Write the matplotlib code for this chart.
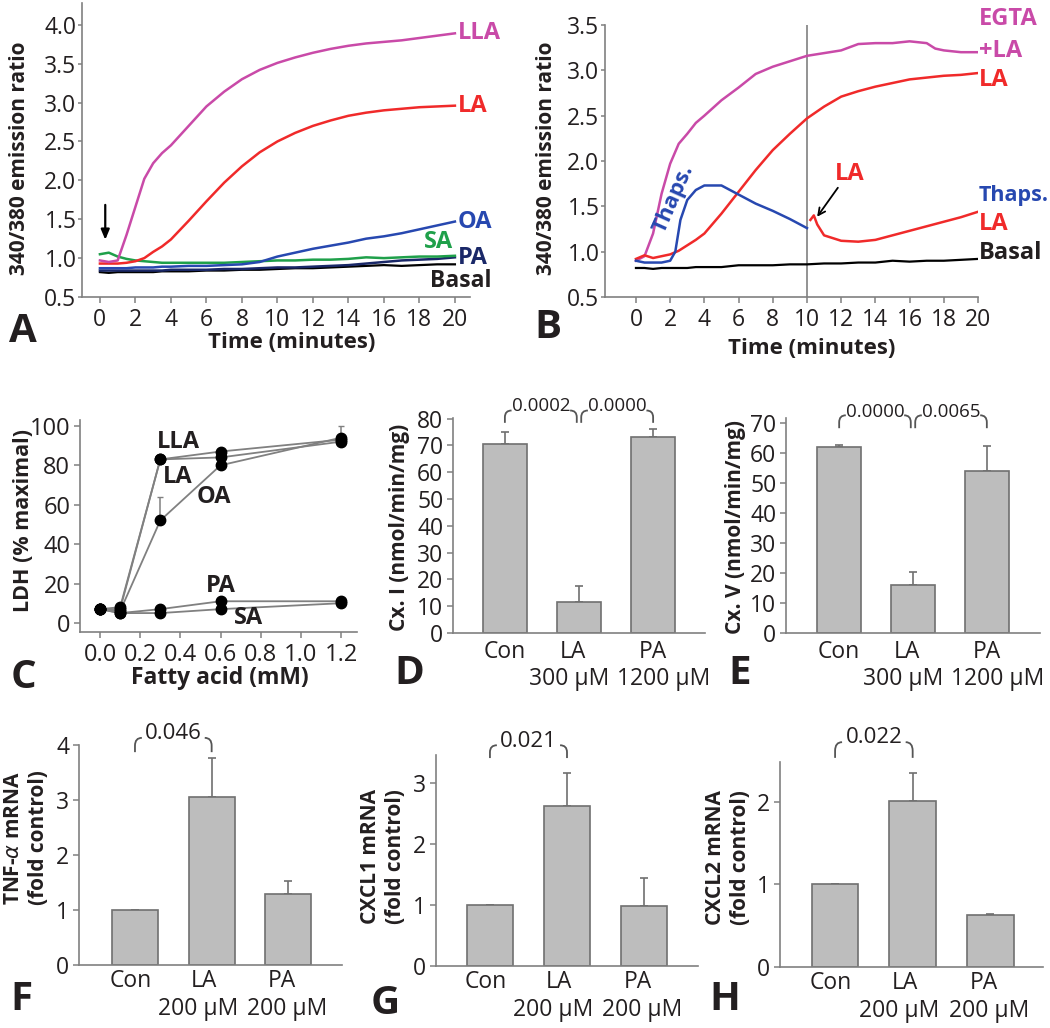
import numpy as np
import matplotlib
matplotlib.use("Agg")
import matplotlib.pyplot as plt
from matplotlib.path import Path
from matplotlib.patches import PathPatch

plt.rcParams['font.family'] = ['Open Sans', 'DejaVu Sans']

# ---- data -------------------------------------------------------------
# panel A: calcium traces
tA = [0, 0.5, 1, 1.5, 2, 2.5, 3, 3.5, 4, 5, 6, 7, 8, 9, 10, 11, 12, 13, 14, 15, 16, 17, 18, 19, 20]
lla_A = [0.97, 0.95, 0.97, 1.30, 1.66, 2.02, 2.22, 2.35, 2.45, 2.70, 2.95, 3.14, 3.30, 3.42, 3.51,
         3.58, 3.64, 3.69, 3.73, 3.76, 3.78, 3.80, 3.83, 3.86, 3.89]
la_A = [0.93, 0.93, 0.93, 0.94, 0.96, 1.00, 1.08, 1.15, 1.24, 1.48, 1.73, 1.97, 2.18, 2.36, 2.50,
        2.61, 2.70, 2.77, 2.83, 2.87, 2.90, 2.92, 2.94, 2.95, 2.96]
oa_A = [0.87, 0.87, 0.87, 0.87, 0.88, 0.88, 0.88, 0.89, 0.89, 0.90, 0.90, 0.91, 0.92, 0.95, 1.02,
        1.07, 1.12, 1.16, 1.20, 1.25, 1.28, 1.32, 1.37, 1.42, 1.47]
sa_A = [1.05, 1.07, 1.02, 0.99, 0.97, 0.96, 0.95, 0.94, 0.94, 0.94, 0.94, 0.94, 0.95, 0.96, 0.97,
        0.97, 0.98, 0.98, 0.99, 1.01, 1.00, 1.01, 1.02, 1.02, 1.03]
pa_A = [0.84, 0.84, 0.84, 0.84, 0.84, 0.84, 0.84, 0.84, 0.85, 0.85, 0.85, 0.86, 0.86, 0.87, 0.88,
        0.88, 0.89, 0.90, 0.91, 0.93, 0.95, 0.97, 0.98, 0.99, 1.01]
basal_A = [0.82, 0.81, 0.82, 0.82, 0.82, 0.82, 0.82, 0.83, 0.83, 0.83, 0.84, 0.84, 0.85, 0.85, 0.86,
           0.87, 0.87, 0.88, 0.89, 0.90, 0.91, 0.90, 0.91, 0.92, 0.92]

# panel B
tB = [0, 0.5, 1, 1.5, 2, 2.5, 3, 3.5, 4, 5, 6, 7, 8, 9, 10, 11, 12, 13, 14, 15, 16, 17, 17.5, 18, 19, 20]
egta_B = [0.90, 0.95, 1.20, 1.64, 1.97, 2.19, 2.30, 2.42, 2.50, 2.67, 2.81, 2.96, 3.04, 3.10, 3.16,
          3.19, 3.22, 3.29, 3.30, 3.30, 3.32, 3.30, 3.24, 3.22, 3.20, 3.20]
la_B = [0.92, 0.96, 0.93, 0.95, 0.97, 1.01, 1.07, 1.13, 1.20, 1.42, 1.66, 1.90, 2.12, 2.30, 2.47,
        2.60, 2.71, 2.77, 2.82, 2.86, 2.90, 2.92, 2.93, 2.94, 2.95, 2.97]
basal_B = [0.82, 0.82, 0.81, 0.82, 0.82, 0.82, 0.82, 0.83, 0.83, 0.83, 0.85, 0.85, 0.85, 0.86, 0.86,
           0.87, 0.87, 0.88, 0.88, 0.90, 0.89, 0.90, 0.90, 0.90, 0.91, 0.92]
t_thaps = [0, 0.5, 1, 1.5, 2, 2.3, 2.6, 3, 3.5, 4, 5, 6, 7, 8, 9, 10]
thaps_B = [0.90, 0.88, 0.88, 0.88, 0.90, 1.00, 1.35, 1.57, 1.68, 1.73, 1.73, 1.63, 1.53, 1.45, 1.36, 1.26]
t_la2 = [10.2, 10.4, 10.6, 11, 12, 13, 14, 15, 16, 17, 18, 19, 20]
la2_B = [1.35, 1.40, 1.30, 1.18, 1.12, 1.11, 1.13, 1.18, 1.23, 1.28, 1.33, 1.38, 1.44]

# panel C: LDH release
conc = [0, 0.1, 0.3, 0.6, 1.2]
ldh_lla = [7, 8, 83, 87, 93]
ldh_la = [7, 7, 83, 84, 92]
ldh_oa = [7, 6, 52, 80, 94]
ldh_pa = [7, 5, 7, 11, 11]
ldh_sa = [7, 5, 5, 7, 10]
ldh_oa_err = [0, 0, 12, 0, 6]

# panels D-H: bars
names = ['Con', 'LA', 'PA']
doses_DE = ['', '300 \u00b5M', '1200 \u00b5M']
doses_FH = ['', '200 \u00b5M', '200 \u00b5M']
cx1 = [70.5, 11.5, 73]
cx1_err = [4.5, 6, 3]
cx5 = [62, 16, 54]
cx5_err = [0.8, 4.5, 8.5]
tnf = [1.0, 3.05, 1.3]
tnf_err = [0, 0.72, 0.23]
cxcl1 = [1.0, 2.63, 0.99]
cxcl1_err = [0, 0.53, 0.45]
cxcl2 = [1.0, 2.01, 0.63]
cxcl2_err = [0, 0.34, 0.01]

# ---- style ------------------------------------------------------------
W, H = 1050, 1028
TXT = '#231f20'
AX = '#808080'
MAG = '#c94aa8'
RED = '#f02a2a'
BLUE = '#2748b0'
GREEN = '#1fa04a'
NAVY = '#1a2868'

fig = plt.figure(figsize=(W / 100, H / 100), dpi=100)


def rect(l, t, r, b):
    return [l / W, 1 - b / H, (r - l) / W, (b - t) / H]


def fx(x):
    return x / W


def fy(y):
    return 1 - y / H


def style(ax, fs=16, ylen=3, ypad=2):
    for s in ['top', 'right']:
        ax.spines[s].set_visible(False)
    for s in ['left', 'bottom']:
        ax.spines[s].set_color(AX)
        ax.spines[s].set_linewidth(1.2)
    ax.tick_params(axis='both', colors=AX, labelcolor=TXT, labelsize=fs, width=1.1)
    ax.tick_params(axis='y', length=ylen, pad=ypad)
    ax.tick_params(axis='x', length=4, pad=4)


def ylab(x, y, s, fs=15):
    fig.text(fx(x), fy(y), s, rotation=90, ha='center', va='center',
             fontsize=fs, fontweight='bold', color=TXT, linespacing=1.3)


def xlab(x, y, s, fs=16):
    fig.text(fx(x), fy(y), s, ha='center', va='center', fontsize=fs,
             fontweight='bold', color=TXT)


def letter(x, y, s):
    fig.text(fx(x), fy(y), s, ha='center', va='center', fontsize=29,
             fontweight='bold', color=TXT)


def bracket(ax, x0, x1, y0, y1, s, fs=13.5, w=0.09, ty=None):
    h = (y1 - y0) * 0.55
    for xa, d in [(x0, 1), (x1, -1)]:
        verts = [(xa, y0), (xa, y1 - h), (xa, y1), (xa + d * w, y1)]
        codes = [Path.MOVETO, Path.LINETO, Path.CURVE3, Path.CURVE3]
        ax.add_patch(PathPatch(Path(verts, codes), fill=False, edgecolor='#555555',
                               lw=1.3, clip_on=False))
    ax.text((x0 + x1) / 2, y1 if ty is None else ty, s, ha='center', va='center',
            fontsize=fs, color=TXT, clip_on=False)


# ---- A ----------------------------------------------------------------
axA = fig.add_axes(rect(82, 3, 470, 297))
style(axA, 16.5, ylen=3, ypad=1)
axA.plot(tA, basal_A, color='black', lw=1.6)
axA.plot(tA, pa_A, color=NAVY, lw=1.8)
axA.plot(tA, sa_A, color=GREEN, lw=1.8)
axA.plot(tA, oa_A, color=BLUE, lw=1.8)
axA.plot(tA, la_A, color=RED, lw=1.8)
axA.plot(tA, lla_A, color=MAG, lw=1.8)
axA.set_xlim(-1.01, 20.85)
axA.set_ylim(0.5, 4.28)
axA.set_xticks(range(0, 21, 2))
axA.set_yticks(np.arange(0.5, 4.01, 0.5))
axA.set_yticklabels(['%.1f' % v for v in np.arange(0.5, 4.01, 0.5)])
axA.annotate('', xy=(0.3, 1.2), xytext=(0.3, 1.72),
             arrowprops=dict(arrowstyle='-|>,head_width=0.25,head_length=0.6', color='black', lw=1.6))
for s, y, c in [('LLA', 3.89, MAG), ('LA', 2.96, RED), ('OA', 1.47, BLUE), ('PA', 1.0, NAVY)]:
    axA.text(20.15, y, s, color=c, fontsize=17, fontweight='bold', va='center', ha='left', clip_on=False)
axA.text(19.1, 1.21, 'SA', color=GREEN, fontsize=17, fontweight='bold', va='center', ha='center')
axA.text(18.6, 0.71, 'Basal', color=TXT, fontsize=16.5, fontweight='bold', va='center', ha='left', clip_on=False)
ylab(20, 158, '340/380 emission ratio')
xlab(292, 343, 'Time (minutes)')
letter(23, 332, 'A')

# ---- B ----------------------------------------------------------------
axB = fig.add_axes(rect(605, 25, 978, 297))
style(axB, 16.5, ylen=3, ypad=1)
axB.axvline(10, color=AX, lw=1.2)
axB.plot(tB, basal_B, color='black', lw=1.6)
axB.plot(tB, egta_B, color=MAG, lw=1.8)
axB.plot(tB, la_B, color=RED, lw=1.8)
axB.plot(t_thaps, thaps_B, color=BLUE, lw=1.8)
axB.plot(t_la2, la2_B, color=RED, lw=1.8)
axB.set_xlim(-1.81, 20)
axB.set_ylim(0.5, 3.5)
axB.set_xticks(range(0, 21, 2))
axB.set_yticks(np.arange(0.5, 3.51, 0.5))
axB.set_yticklabels(['%.1f' % v for v in np.arange(0.5, 3.51, 0.5)])
for s, y, c, f in [('EGTA', 3.57, MAG, 17), ('+LA', 3.21, MAG, 17), ('LA', 2.89, RED, 17),
                   ('Thaps.', 1.62, BLUE, 15.5), ('LA', 1.31, RED, 17), ('Basal', 0.98, TXT, 17)]:
    axB.text(20.05, y, s, color=c, fontsize=f, fontweight='bold', va='center', ha='left', clip_on=False)
axB.text(2.2, 1.58, 'Thaps.', color=BLUE, fontsize=16, fontweight='bold', rotation=66,
         ha='center', va='center')
axB.text(12.5, 1.86, 'LA', color=RED, fontsize=17, fontweight='bold', ha='center', va='center')
axB.annotate('', xy=(10.5, 1.36), xytext=(11.9, 1.73),
             arrowprops=dict(arrowstyle='->,head_width=0.25,head_length=0.5', color='black', lw=1.3))
ylab(547, 158, '340/380 emission ratio')
xlab(812, 348, 'Time (minutes)')
letter(548, 328, 'B')

# ---- C ----------------------------------------------------------------
axC = fig.add_axes(rect(80, 420, 357, 632))
style(axC, 17, ylen=4, ypad=3)
for ys in [ldh_lla, ldh_la, ldh_oa, ldh_pa, ldh_sa]:
    axC.plot(conc, ys, color=AX, lw=1.3, zorder=2)
    axC.plot(conc, ys, 'o', color='black', ms=7.5, zorder=3)
axC.errorbar(conc, ldh_oa, yerr=[[0] * 5, ldh_oa_err], fmt='none', ecolor=AX,
             elinewidth=1.1, capsize=2, zorder=1)
axC.set_xlim(-0.1, 1.28)
axC.set_ylim(-4.6, 103)
axC.set_xticks(np.arange(0, 1.21, 0.2))
axC.set_xticklabels(['%.1f' % v for v in np.arange(0, 1.21, 0.2)])
axC.set_yticks(range(0, 101, 20))
for s, x, y in [('LLA', 0.39, 92), ('LA', 0.385, 74), ('OA', 0.565, 64), ('PA', 0.6, 19), ('SA', 0.74, 2.5)]:
    axC.text(x, y, s, color=TXT, fontsize=17, fontweight='bold', ha='center', va='center')
ylab(24, 521, 'LDH (% maximal)', fs=15.5)
xlab(220, 678, 'Fatty acid (mM)', fs=16.5)
letter(23, 677, 'C')


# ---- bar panels ---------------------------------------------------------
def bars(r, vals, errs, doses, xlim, ylim, yticks, name_dx, dose_dx, off1, off2):
    ax = fig.add_axes(rect(*r))
    style(ax, 16.5, ylen=4, ypad=3)
    x = np.arange(len(vals))
    ax.bar(x, vals, width=0.6, color='#bdbdbd', edgecolor='#707070', lw=1.2, zorder=2)
    ax.errorbar(x, vals, yerr=[[0] * len(vals), errs], fmt='none', ecolor='#707070',
                elinewidth=1.2, capsize=3, capthick=1.2, zorder=1)
    ax.set_xlim(*xlim)
    ax.set_ylim(*ylim)
    ax.set_xticks([])
    ax.set_yticks(yticks)
    for i in range(len(vals)):
        ax.annotate(names[i], xy=(x[i] + name_dx[i], 0), xycoords=('data', 'axes fraction'),
                    xytext=(0, -off1 * 0.72), textcoords='offset points', ha='center',
                    va='center', fontsize=16.5, color=TXT)
        ax.annotate(doses[i], xy=(x[i] + dose_dx[i], 0), xycoords=('data', 'axes fraction'),
                    xytext=(0, -off2 * 0.72), textcoords='offset points', ha='center',
                    va='center', fontsize=16.5, color=TXT)
    return ax


dx_name_DE = [0, -0.08, 0]
dx_dose_DE = [0, -0.13, 0.14]
dx_name_FH = [-0.05, -0.1, -0.08]
dx_dose_FH = [0, -0.18, -0.02]

axD = bars((453, 418, 705, 633), cx1, cx1_err, doses_DE, (-0.70, 2.70), (0, 80.2), range(0, 81, 10),
           dx_name_DE, dx_dose_DE, 19, 46)
bracket(axD, 0, 0.97, 78.4, 83.0, '0.0002', ty=84.5)
bracket(axD, 1.03, 2, 78.4, 83.0, '0.0000', ty=84.5)
ylab(400, 527, 'Cx. I (nmol/min/mg)')
letter(409, 673, 'D')

axE = bars((786, 418, 1040, 633), cx5, cx5_err, doses_DE, (-0.72, 2.72), (0, 71.7), range(0, 71, 10),
           dx_name_DE, dx_dose_DE, 19, 46)
bracket(axE, 0, 0.97, 68.3, 72.6, '0.0000', ty=73.8)
bracket(axE, 1.03, 2, 68.3, 72.6, '0.0065', ty=73.8)
ylab(735, 527, 'Cx. V (nmol/min/mg)')
letter(740, 673, 'E')

axF = bars((79, 745, 342, 965), tnf, tnf_err, doses_FH, (-0.73, 2.70), (0, 4), range(0, 5),
           dx_name_FH, dx_dose_FH, 16, 44)
bracket(axF, 0, 1, 3.87, 4.13, '0.046', fs=16, ty=4.21)
ylab(26, 838, 'TNF-$\\alpha$ mRNA\n(fold control)')
letter(21, 1000, 'F')

axG = bars((436, 755, 698, 966), cxcl1, cxcl1_err, doses_FH, (-0.70, 2.70), (0, 3.46), range(0, 4),
           dx_name_FH, dx_dose_FH, 16, 44)
bracket(axG, 0, 1, 3.41, 3.62, '0.021', fs=16, ty=3.68)
ylab(383, 857, 'CXCL1 mRNA\n(fold control)')
letter(385, 1003, 'G')

axH = bars((780, 762, 1043, 967), cxcl2, cxcl2_err, doses_FH, (-0.71, 2.68), (0, 2.48), range(0, 3),
           dx_name_FH, dx_dose_FH, 16, 44)
bracket(axH, 0, 1, 2.53, 2.72, '0.022', fs=16, ty=2.78)
ylab(728, 858, 'CXCL2 mRNA\n(fold control)')
letter(725, 1000, 'H')

fig.savefig('out.png', dpi=100)
